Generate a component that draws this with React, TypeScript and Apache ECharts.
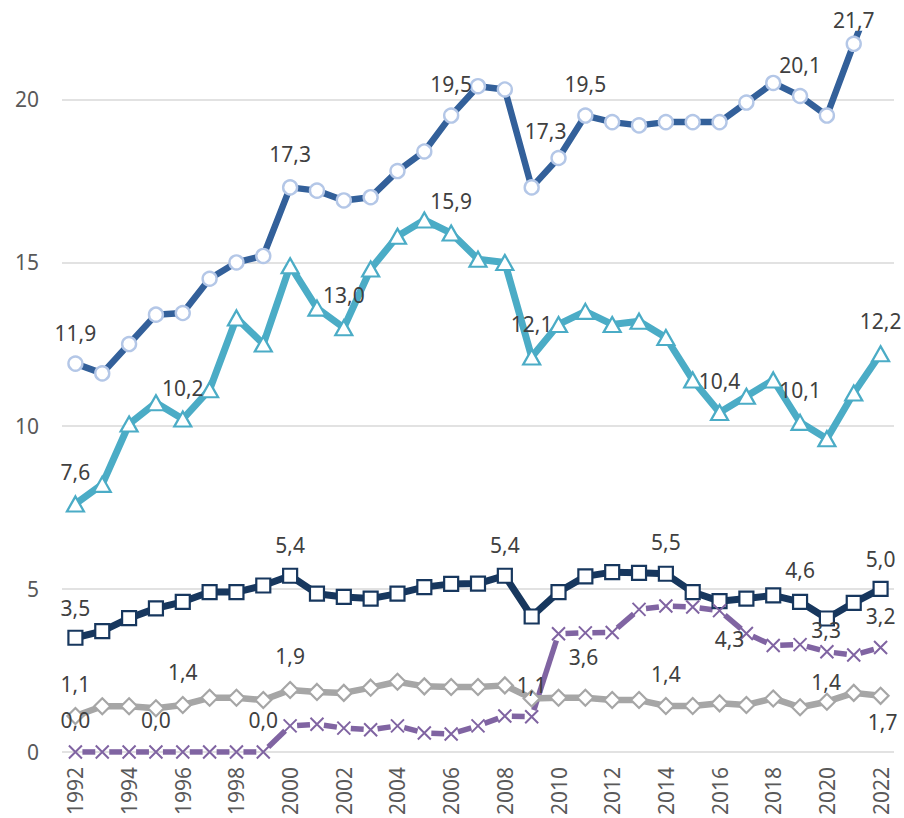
import React, { useEffect, useRef } from 'react';
import * as echarts from 'echarts';

const years = [
  '1992', '1993', '1994', '1995', '1996', '1997', '1998', '1999', '2000', '2001',
  '2002', '2003', '2004', '2005', '2006', '2007', '2008', '2009', '2010', '2011',
  '2012', '2013', '2014', '2015', '2016', '2017', '2018', '2019', '2020', '2021', '2022',
];

const seriesTop = [
  11.9, 11.6, 12.5, 13.4, 13.45, 14.5, 15.0, 15.2, 17.3, 17.2,
  16.9, 17.0, 17.8, 18.4, 19.5, 20.4, 20.3, 17.3, 18.2, 19.5,
  19.3, 19.2, 19.3, 19.3, 19.3, 19.9, 20.5, 20.1, 19.5, 21.7, 23.8,
];

const seriesTeal = [
  7.6, 8.2, 10.05, 10.7, 10.2, 11.1, 13.3, 12.5, 14.9, 13.6,
  13.0, 14.8, 15.8, 16.3, 15.9, 15.1, 15.0, 12.1, 13.1, 13.5,
  13.1, 13.2, 12.7, 11.4, 10.4, 10.9, 11.4, 10.1, 9.6, 11.0, 12.2,
];

const seriesNavy = [
  3.5, 3.7, 4.1, 4.4, 4.6, 4.9, 4.9, 5.1, 5.4, 4.85,
  4.75, 4.7, 4.85, 5.05, 5.15, 5.16, 5.4, 4.15, 4.9, 5.38,
  5.51, 5.49, 5.46, 4.9, 4.62, 4.7, 4.8, 4.6, 4.09, 4.57, 5.0,
];

const seriesPurple = [
  0, 0, 0, 0, 0, 0, 0, 0, 0.8, 0.85,
  0.73, 0.68, 0.8, 0.58, 0.55, 0.8, 1.1, 1.08, 3.62, 3.65,
  3.66, 4.37, 4.47, 4.44, 4.33, 3.63, 3.26, 3.29, 3.07, 2.97, 3.2,
];

const seriesGray = [
  1.1, 1.4, 1.4, 1.34, 1.44, 1.66, 1.66, 1.59, 1.9, 1.84,
  1.81, 1.97, 2.15, 2.01, 1.99, 1.99, 2.04, 1.64, 1.66, 1.66,
  1.59, 1.59, 1.41, 1.41, 1.49, 1.44, 1.64, 1.37, 1.54, 1.81, 1.72,
];

const yTicks = { min: 0, max: 22, interval: 5 };

type LabelSpec = { i: number; dx: number; dy: number };

const labelsTop: LabelSpec[] = [
  { i: 0, dx: 0, dy: -31 }, { i: 8, dx: 0, dy: -33 }, { i: 14, dx: 0, dy: -32 },
  { i: 17, dx: 14, dy: -56 }, { i: 19, dx: 0, dy: -32 }, { i: 27, dx: 0, dy: -31 },
  { i: 29, dx: 0, dy: -24 },
];
const labelsTeal: LabelSpec[] = [
  { i: 0, dx: 0, dy: -32 }, { i: 4, dx: 0, dy: -31 }, { i: 10, dx: 0, dy: -33 },
  { i: 14, dx: 0, dy: -32 }, { i: 17, dx: 0, dy: -33 }, { i: 24, dx: 0, dy: -32 },
  { i: 27, dx: 0, dy: -32 }, { i: 30, dx: 0, dy: -33 },
];
const labelsNavy: LabelSpec[] = [
  { i: 0, dx: 0, dy: -30 }, { i: 8, dx: 0, dy: -31 }, { i: 16, dx: 0, dy: -31 },
  { i: 22, dx: 0, dy: -32 }, { i: 27, dx: 0, dy: -32 }, { i: 30, dx: 0, dy: -30 },
];
const labelsPurple: LabelSpec[] = [
  { i: 0, dx: 0, dy: -32 }, { i: 3, dx: 0, dy: -32 }, { i: 7, dx: 0, dy: -32 },
  { i: 17, dx: 0, dy: -32 }, { i: 18, dx: 25, dy: 23 }, { i: 24, dx: 10, dy: 28 },
  { i: 27, dx: 26, dy: -15 }, { i: 30, dx: 0, dy: -32 },
];
const labelsGray: LabelSpec[] = [
  { i: 0, dx: 0, dy: -32 }, { i: 4, dx: 0, dy: -33 }, { i: 8, dx: 0, dy: -34 },
  { i: 22, dx: 0, dy: -32 }, { i: 27, dx: 26, dy: -25 }, { i: 30, dx: 2, dy: 26 },
];

const FONT = "'Noto Sans', 'DejaVu Sans', sans-serif";
const fmt = (v: number) => v.toFixed(1).replace('.', ',');

function buildData(values: number[], labels: LabelSpec[]) {
  return values.map((v, i) => {
    const l = labels.find((x) => x.i === i);
    if (!l) return v;
    return {
      value: v,
      label: { show: true, position: 'inside', offset: [l.dx, l.dy] },
    };
  });
}

const baseLabel = {
  show: false,
  fontSize: 21,
  color: '#404040',
  fontFamily: FONT,
  formatter: (p: any) => fmt(typeof p.value === 'number' ? p.value : p.value[1]),
};

const C_TOP = '#33609A';
const C_TEAL = '#4BACC6';
const C_NAVY = '#17375E';
const C_PURPLE = '#8064A2';
const C_GRAY = '#A6A6A6';

export default function App() {
  const ref = useRef<HTMLDivElement>(null);

  useEffect(() => {
    if (!ref.current) return;
    const chart = echarts.init(ref.current, null, { renderer: 'svg' });
    const option: any = {
      animation: false,
      backgroundColor: '#ffffff',
      grid: { left: 62, right: 10, top: 34, bottom: 59, containLabel: false },
      xAxis: {
        type: 'category',
        data: years,
        boundaryGap: true,
        axisLine: { show: false },
        axisTick: { show: false },
        axisLabel: {
          rotate: 90,
          interval: 1,
          margin: 15,
          fontSize: 21,
          color: '#595959',
          fontFamily: FONT,
        },
      },
      yAxis: {
        type: 'value',
        min: yTicks.min,
        max: yTicks.max,
        interval: yTicks.interval,
        axisLine: { show: false },
        axisTick: { show: false },
        axisLabel: {
          margin: 23,
          fontSize: 21,
          color: '#595959',
          fontFamily: FONT,
          showMaxLabel: false,
        },
        splitLine: {
          show: true,
          showMaxLine: false,
          lineStyle: { color: '#D9D9D9', width: 1.5 },
        },
      },
      series: [
        {
          type: 'line',
          name: 'top',
          data: buildData(seriesTop, labelsTop),
          clip: true,
          symbol: 'circle',
          symbolSize: 14,
          showAllSymbol: true,
          lineStyle: { color: C_TOP, width: 6.5 },
          itemStyle: { color: '#ffffff', borderColor: '#B4C7E7', borderWidth: 2.4 },
          label: baseLabel,
          emphasis: { disabled: true },
        },
        {
          type: 'line',
          name: 'teal',
          data: buildData(seriesTeal, labelsTeal),
          symbol: 'triangle',
          symbolSize: [17, 15],
          showAllSymbol: true,
          lineStyle: { color: C_TEAL, width: 7 },
          itemStyle: { color: '#ffffff', borderColor: C_TEAL, borderWidth: 2.2 },
          label: baseLabel,
          emphasis: { disabled: true },
        },
        {
          type: 'line',
          name: 'navy',
          data: buildData(seriesNavy, labelsNavy),
          symbol: 'rect',
          symbolSize: 14,
          showAllSymbol: true,
          lineStyle: { color: C_NAVY, width: 7 },
          itemStyle: { color: '#ffffff', borderColor: C_NAVY, borderWidth: 2.2 },
          label: baseLabel,
          emphasis: { disabled: true },
        },
        {
          type: 'line',
          name: 'gray',
          data: buildData(seriesGray, labelsGray),
          symbol: 'diamond',
          symbolSize: 16,
          showAllSymbol: true,
          lineStyle: { color: C_GRAY, width: 6.5 },
          itemStyle: { color: '#ffffff', borderColor: C_GRAY, borderWidth: 2.2 },
          label: baseLabel,
          emphasis: { disabled: true },
        },
        {
          type: 'custom',
          name: 'purpleSegments',
          data: seriesPurple.map((v, i) => [i, v]),
          silent: true,
          renderItem: (params: any, api: any) => {
            const i = params.dataIndex;
            if (i >= seriesPurple.length - 1) return null;
            const p0 = api.coord([i, seriesPurple[i]]);
            const p1 = api.coord([i + 1, seriesPurple[i + 1]]);
            const dx = p1[0] - p0[0];
            const dy = p1[1] - p0[1];
            const len = Math.hypot(dx, dy);
            const gap = 7;
            const ux = dx / len;
            const uy = dy / len;
            return {
              type: 'line',
              shape: {
                x1: p0[0] + ux * gap,
                y1: p0[1] + uy * gap,
                x2: p1[0] - ux * gap,
                y2: p1[1] - uy * gap,
              },
              style: { stroke: C_PURPLE, lineWidth: 5.5, lineCap: 'butt' },
            };
          },
        },
        {
          type: 'line',
          name: 'purple',
          data: buildData(seriesPurple, labelsPurple),
          symbol: 'path://M0,0L10,10M10,0L0,10',
          symbolSize: 13,
          showAllSymbol: true,
          lineStyle: { opacity: 0 },
          itemStyle: { color: C_PURPLE, borderColor: C_PURPLE, borderWidth: 2 },
          label: baseLabel,
          emphasis: { disabled: true },
        },
      ],
    };
    chart.setOption(option);
    return () => {
      chart.dispose();
    };
  }, []);

  return (
    <div
      ref={ref}
      style={{ position: 'fixed', left: 0, top: 0, width: 904, height: 818, background: '#fff' }}
    />
  );
}
